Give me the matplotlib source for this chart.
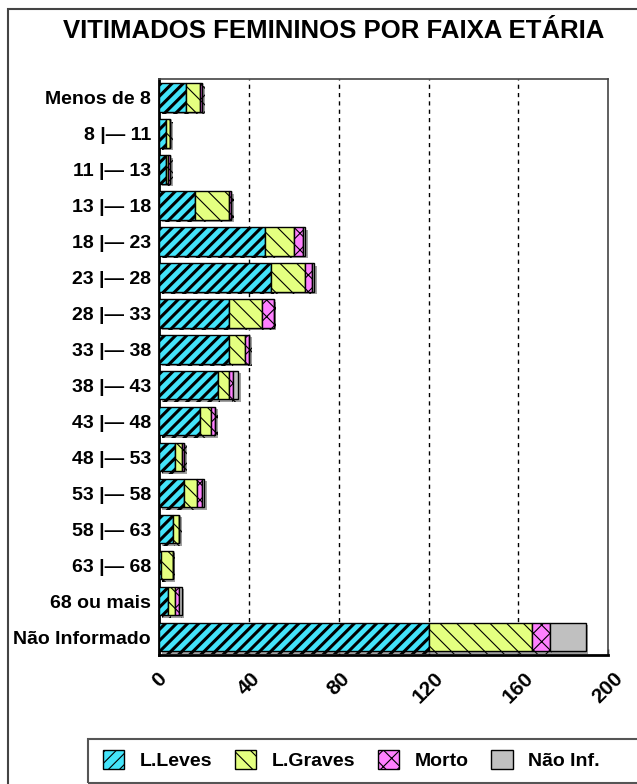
import matplotlib
matplotlib.use('Agg')
from matplotlib import pyplot as plt
from matplotlib import patheffects as pe
from matplotlib.patches import Rectangle, Patch
import numpy as np

categories = ['Menos de 8', '8 |— 11', '11 |— 13', '13 |— 18', '18 |— 23', '23 |— 28',
              '28 |— 33', '33 |— 38', '38 |— 43', '43 |— 48', '48 |— 53', '53 |— 58',
              '58 |— 63', '63 |— 68', '68 ou mais', 'Não Informado']
leves  = [12, 3, 3, 16, 47, 50, 31, 31, 26, 18, 7, 11, 6, 1, 4, 120]
graves = [6, 2, 1, 15, 13, 15, 15, 7, 5, 5, 3, 6, 3, 5, 3, 46]
morto  = [1, 0, 1, 1, 4, 3, 5, 2, 2, 2, 1, 2, 0, 0, 2, 8]
nao_inf = [0, 0, 0, 0, 1, 1, 0, 0, 2, 0, 0, 1, 0, 0, 1, 16]
series_names = ['L.Leves', 'L.Graves', 'Morto', 'Não Inf.']
xticks = [0, 40, 80, 120, 160, 200]

colors = ['#44E4FA', '#E4FF80', '#FF80FF', '#C0C0C0']
hatches = ['///', '\\\\', 'xx', None]
hatch_lw = [2.2, 0.8, 0.8, 0.8]

plt.rcParams['font.family'] = ['Liberation Sans', 'DejaVu Sans']

fig = plt.figure(figsize=(6.37, 7.84), dpi=100)

# outer frame (cropped on the right and bottom like the original)
fig.patches.append(Rectangle((8 / 637, -0.05), 1.1, 0.9885 + 0.05, transform=fig.transFigure,
                             fill=False, edgecolor='#444444', linewidth=1.5))

fig.text(0.524, 0.961, 'VITIMADOS FEMININOS POR FAIXA ETÁRIA', ha='center', va='center',
         fontsize=18.5, fontweight='bold')

ax = fig.add_axes([0.250, 0.1645, 0.7045, 0.7345])

y = np.arange(len(categories))
data = [leves, graves, morto, nao_inf]
left = np.zeros(len(categories))
shadow = [pe.SimplePatchShadow(offset=(2, -2), shadow_rgbFace='#888888', alpha=0.8), pe.Normal()]
for vals, col, h, hlw in zip(data, colors, hatches, hatch_lw):
    plt.rcParams['hatch.linewidth'] = hlw
    bars = ax.barh(y, vals, left=left, height=0.8, color=col, edgecolor='black',
                   linewidth=1.0, hatch=h, zorder=3)
    for b in bars:
        try:
            b.set_hatch_linewidth(hlw)
        except AttributeError:
            pass
        b.set_path_effects(shadow)
    left = left + np.array(vals)

ax.set_ylim(len(categories) - 0.5, -0.5)
ax.set_xlim(0, 200)
ax.set_xticks(xticks)
ax.set_xticklabels([str(t) for t in xticks], rotation=45, ha='center', fontsize=15,
                   fontweight='bold')
ax.set_yticks(y)
ax.set_yticklabels(categories, fontsize=14, fontweight='bold')
ax.tick_params(axis='x', direction='in', length=4, width=1, pad=10)
ax.tick_params(axis='y', length=0, pad=6)
for t in xticks[1:-1]:
    ax.axvline(t, color='black', linestyle=(0, (3, 3)), linewidth=1, zorder=1)
for s in ['left', 'bottom']:
    ax.spines[s].set_linewidth(2)
    ax.spines[s].set_color('black')
for s in ['top', 'right']:
    ax.spines[s].set_linewidth(1.2)
    ax.spines[s].set_color('#444444')

# legend frame runs off the right edge, like the original
fig.patches.append(Rectangle((88 / 637, 1 / 784), 0.9, 44 / 784, transform=fig.transFigure,
                             fill=False, edgecolor='#555555', linewidth=1.5))
handles = []
for name, col, h, hlw in zip(series_names, colors, hatches, hatch_lw):
    plt.rcParams['hatch.linewidth'] = hlw
    p = Patch(facecolor=col, edgecolor='black', hatch=h, label=name)
    handles.append(p)
leg = fig.legend(handles=handles, loc='center left', ncol=4, mode='expand',
                 bbox_to_anchor=(103 / 637, 2 / 784, 497 / 637, 44 / 784),
                 prop={'weight': 'bold', 'size': 14}, frameon=False,
                 handlelength=1.1, handleheight=1.1, handletextpad=0.8, borderaxespad=0.0,
                 borderpad=0.0)

fig.savefig('out.png', dpi=100)
